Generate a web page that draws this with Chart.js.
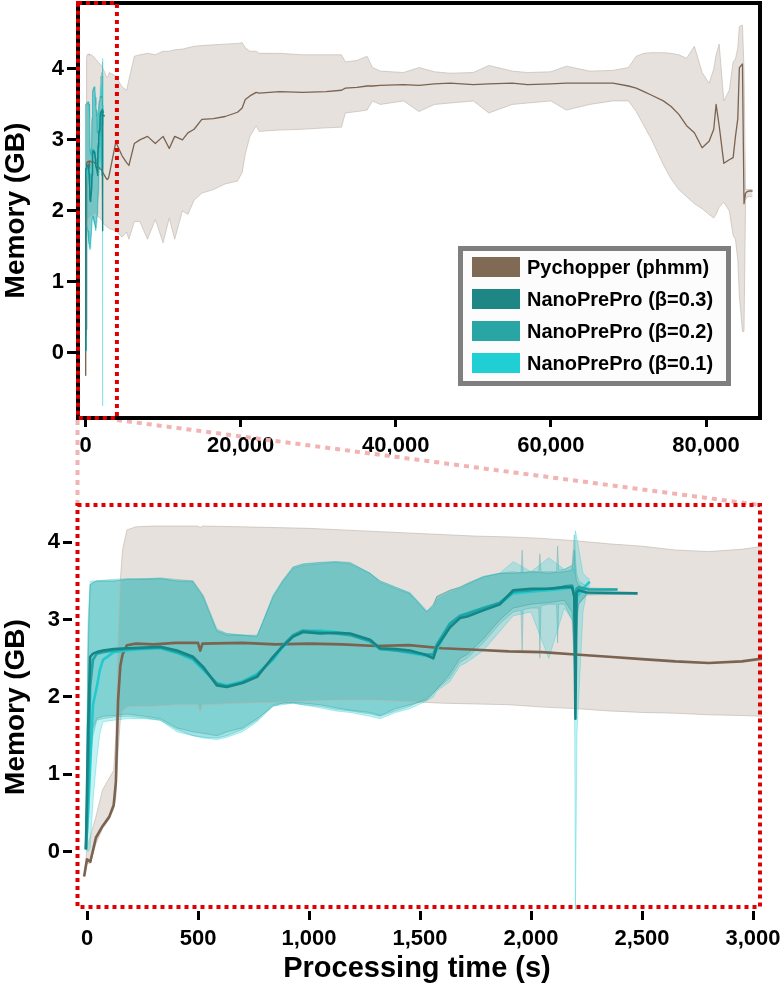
<!DOCTYPE html>
<html>
<head>
<meta charset="utf-8">
<script src="https://cdn.jsdelivr.net/npm/chart.js@4.4.1/dist/chart.umd.min.js"></script>
<style>
  body { margin: 0; background: #fff; }
  #wrap { position: relative; width: 784px; height: 997px; }
  #top { position: absolute; left: 0; top: 0; }
  #bottom { position: absolute; left: 0; top: 420px; }
</style>
</head>
<body>
<div id="wrap">
  <canvas id="top" width="784" height="460" style="width:784px;height:460px"></canvas>
  <canvas id="bottom" width="784" height="577" style="width:784px;height:577px"></canvas>
</div>
<script>
// Series names / colours
const seriesNames = ['Pychopper (phmm)', 'NanoPrePro (β=0.3)', 'NanoPrePro (β=0.2)', 'NanoPrePro (β=0.1)']
const swatchColors = ['#806a56', '#1f8686', '#2aa5a5', '#1fcfd4']
const lineColors = ['#7a6350', '#168585', '#1ea6a8', '#22c9cf']

// Tick labels
const topXTicks = [0, 20000, 40000, 60000, 80000]
const bottomXTicks = [0, 500, 1000, 1500, 2000, 2500, 3000]
const yTicks = [0, 1, 2, 3, 4]

// Pychopper (phmm): time (s), mean, lower, upper (GB)
const pyTime = [
  -13, 0, 15, 40, 70, 100, 120, 130, 140, 150,
  160, 180, 220, 300, 400, 500, 510, 520, 700, 850,
  1000, 1150, 1300, 1450, 1600, 1750, 1900, 2050, 2200, 2350,
  2500, 2650, 2800, 2950, 3050, 3900, 4700, 5300, 5600, 6300,
  7000, 8000, 9000, 10000, 10800, 11500, 12500, 13200, 14000, 15000,
  16500, 18000, 19600, 20200, 20600, 21200, 22000, 22400, 25000, 28000,
  31000, 33000, 33500, 35000, 36300, 37000, 38000, 41000, 43000, 45000,
  47000, 50000, 52000, 55000, 57000, 60000, 62000, 65000, 68000, 70000,
  71000, 72000, 73000, 74500, 75500, 76500, 77500, 78500, 79500, 80400,
  81000, 81300, 81700, 82300, 83000, 83500, 83800, 84100, 84300, 84700,
  84900, 85100, 85300, 85600, 86000
]
const pyMean = [
  -0.32, -0.1, -0.13, 0.18, 0.33, 0.45, 0.6, 0.9, 1.96, 2.4,
  2.55, 2.67, 2.69, 2.68, 2.7, 2.7, 2.6, 2.69, 2.7, 2.68,
  2.69, 2.68, 2.66, 2.67, 2.63, 2.61, 2.59, 2.58, 2.55, 2.52,
  2.49, 2.46, 2.44, 2.46, 2.5, 2.97, 2.78, 2.68, 2.64, 2.95,
  3.0, 3.05, 2.95, 3.05, 2.88, 3.05, 3.0, 3.1, 3.15, 3.29,
  3.3, 3.33, 3.39, 3.45, 3.57, 3.62, 3.67, 3.66, 3.68, 3.67,
  3.68, 3.7, 3.73, 3.74, 3.76, 3.76, 3.77, 3.78, 3.77, 3.79,
  3.8, 3.78, 3.79, 3.8, 3.78, 3.79, 3.8, 3.8, 3.8, 3.76,
  3.73, 3.68, 3.63, 3.55, 3.47, 3.36, 3.2, 3.1, 2.89, 2.98,
  3.15, 3.5, 3.2, 2.67, 2.72, 2.75, 3.05, 3.3, 4.02, 4.07,
  2.1, 2.25, 2.27, 2.28, 2.28
]
const pyLow = [
  -0.32, -0.15, -0.15, 0.1, 0.3, 0.42, 0.55, 0.7, 1.3, 1.7,
  1.82, 1.87, 1.88, 1.88, 1.9, 1.9, 1.8, 1.9, 1.92, 1.93,
  1.95, 1.96, 1.96, 1.94, 1.92, 1.91, 1.9, 1.87, 1.85, 1.82,
  1.8, 1.79, 1.77, 1.76, 1.75, 1.72, 1.63, 1.7, 1.6, 1.85,
  1.85, 1.6, 1.88, 1.55, 1.9, 1.6, 2.0, 1.95, 2.15, 2.25,
  2.3, 2.38, 2.42, 2.54, 2.8, 3.05, 3.2, 3.12, 3.14, 3.15,
  3.17, 3.18, 3.38, 3.4, 3.42, 3.55, 3.5, 3.55, 3.4, 3.5,
  3.52, 3.55, 3.38, 3.5, 3.52, 3.55, 3.42, 3.5, 3.55, 3.55,
  3.4, 3.2, 3.0, 2.65, 2.45, 2.3, 2.2, 2.1, 2.03, 1.95,
  1.9, 1.95, 2.05, 2.12, 2.0, 1.65, 1.6, 1.3, 0.8, 0.3,
  0.3, 2.15, 2.2, 2.2, 2.2
]
const pyHigh = [
  -0.32, 0.05, 0.2, 0.45, 0.8, 0.95, 1.05, 1.5, 2.8, 3.5,
  3.9, 4.16, 4.2, 4.21, 4.21, 4.21, 4.19, 4.21, 4.2, 4.19,
  4.18, 4.16, 4.14, 4.12, 4.1, 4.08, 4.07, 4.05, 4.02, 3.98,
  3.95, 3.9, 3.88, 3.91, 3.95, 3.9, 3.75, 3.7, 3.85, 4.18,
  4.2, 4.22, 4.2, 4.25, 4.25, 4.27, 4.28, 4.3, 4.32, 4.33,
  4.34, 4.35, 4.36, 4.37, 4.3, 4.25, 4.25, 4.22, 4.22, 4.2,
  4.2, 4.2, 4.1, 4.12, 4.18, 4.02, 3.97, 3.95, 4.02, 3.96,
  3.94, 3.95, 4.05, 3.97, 3.95, 3.96, 4.04, 3.97, 3.98, 4.02,
  4.18, 4.22, 4.23, 4.23, 4.22, 4.2, 4.15, 4.32, 3.95, 3.8,
  4.0, 4.2, 4.35, 3.55, 3.7, 4.1, 4.14, 4.3, 4.6, 4.62,
  4.0, 2.3, 2.3, 2.3, 2.3
]

// NanoPrePro (β=0.3)
const n3Time = [
  -5, 5, 14, 27, 44, 72, 120, 180, 260, 330,
  405, 477, 523, 585, 630, 700, 766, 838, 880, 928,
  973, 1050, 1120, 1185, 1275, 1320, 1390, 1455, 1530, 1560,
  1576, 1635, 1680, 1712, 1785, 1860, 1920, 2000, 2080, 2150,
  2185, 2195, 2200, 2205, 2215, 2250, 2480
]
const n3Mean = [
  0.03, 1.6, 2.52, 2.56, 2.58, 2.6, 2.62, 2.63, 2.64, 2.65,
  2.6, 2.52, 2.39, 2.15, 2.13, 2.18, 2.26, 2.52, 2.65, 2.78,
  2.84, 2.82, 2.83, 2.82, 2.74, 2.63, 2.62, 2.6, 2.54, 2.5,
  2.65, 2.9, 3.02, 3.04, 3.12, 3.2, 3.38, 3.4, 3.4, 3.42,
  3.42, 3.3, 1.72, 3.35, 3.38, 3.35, 3.34
]
const n3Low = [
  0.03, 0.5, 1.4, 1.6, 1.72, 1.75, 1.76, 1.78, 1.75, 1.72,
  1.6, 1.55, 1.53, 1.5, 1.55, 1.6, 1.72, 1.88, 1.92, 1.93,
  1.92, 1.9, 1.86, 1.83, 1.8, 1.76, 1.85, 1.9, 1.96, 2.05,
  2.1, 2.3, 2.5, 2.55, 2.75, 3.0, 3.15, 3.2, 3.22, 3.25,
  3.1, 2.6, 1.72, 2.9, 3.2, 3.32, 3.33
]
const n3High = [
  0.03, 2.8, 3.45, 3.48, 3.5, 3.5, 3.5, 3.52, 3.52, 3.53,
  3.5, 3.5, 3.3, 2.85, 2.8, 2.8, 2.78, 3.3, 3.5, 3.68,
  3.72, 3.74, 3.75, 3.74, 3.6, 3.5, 3.42, 3.34, 3.1, 3.2,
  3.3, 3.38, 3.42, 3.46, 3.55, 3.6, 3.6, 3.62, 3.6, 3.62,
  3.64, 3.9, 3.6, 3.5, 3.45, 3.36, 3.35
]

// NanoPrePro (β=0.2)
const n2Time = [
  -5, 5, 14, 27, 44, 72, 120, 180, 260, 330,
  405, 477, 523, 585, 630, 700, 766, 838, 880, 928,
  973, 1050, 1120, 1185, 1275, 1320, 1390, 1455, 1530, 1560,
  1576, 1635, 1680, 1712, 1785, 1860, 1920, 1955, 1960, 1965,
  2000, 2035, 2040, 2045, 2080, 2115, 2120, 2125, 2150, 2185,
  2195, 2200, 2205, 2215, 2260, 2390
]
const n2Mean = [
  0.03, 0.9, 2.13, 2.48, 2.56, 2.58, 2.6, 2.62, 2.63, 2.64,
  2.58, 2.5, 2.37, 2.17, 2.14, 2.19, 2.28, 2.5, 2.66, 2.8,
  2.86, 2.84, 2.82, 2.8, 2.72, 2.62, 2.6, 2.58, 2.55, 2.55,
  2.68, 2.95, 3.05, 3.08, 3.15, 3.22, 3.36, 3.37, 3.37, 3.37,
  3.38, 3.39, 3.39, 3.39, 3.4, 3.41, 3.41, 3.41, 3.43, 3.44,
  3.3, 3.2, 3.4, 3.42, 3.39, 3.39
]
const n2Low = [
  0.03, 0.3, 1.2, 1.5, 1.7, 1.72, 1.74, 1.75, 1.73, 1.7,
  1.58, 1.5, 1.48, 1.47, 1.5, 1.58, 1.7, 1.9, 1.92, 1.92,
  1.9, 1.88, 1.84, 1.82, 1.78, 1.75, 1.82, 1.88, 1.98, 2.05,
  2.1, 2.25, 2.45, 2.5, 2.7, 2.95, 3.1, 3.12, 2.6, 3.13,
  3.15, 3.15, 2.5, 3.18, 3.2, 3.2, 2.7, 3.2, 3.2, 3.0,
  2.4, 2.9, 3.1, 3.2, 3.37, 3.38
]
const n2High = [
  0.03, 2.5, 3.45, 3.48, 3.5, 3.51, 3.52, 3.53, 3.53, 3.54,
  3.52, 3.5, 3.32, 2.88, 2.82, 2.8, 2.8, 3.28, 3.48, 3.66,
  3.7, 3.72, 3.74, 3.72, 3.6, 3.48, 3.4, 3.33, 3.1, 3.18,
  3.3, 3.38, 3.42, 3.47, 3.56, 3.6, 3.62, 3.6, 3.9, 3.6,
  3.62, 3.62, 3.85, 3.62, 3.62, 3.62, 3.95, 3.64, 3.65, 3.7,
  4.1, 3.8, 3.6, 3.5, 3.41, 3.4
]

// NanoPrePro (β=0.1)
const n1Time = [
  -5, 5, 14, 27, 44, 58, 72, 120, 180, 260,
  330, 405, 477, 523, 585, 630, 700, 766, 838, 880,
  928, 973, 1050, 1120, 1185, 1275, 1320, 1390, 1455, 1530,
  1560, 1576, 1635, 1680, 1712, 1785, 1860, 1920, 2000, 2080,
  2150, 2185, 2195, 2200, 2207, 2234, 2250, 2265
]
const n1Mean = [
  0.03, 0.5, 1.1, 1.9, 2.13, 2.35, 2.48, 2.58, 2.6, 2.62,
  2.63, 2.57, 2.48, 2.35, 2.18, 2.15, 2.2, 2.3, 2.48, 2.64,
  2.78, 2.85, 2.86, 2.84, 2.81, 2.73, 2.62, 2.6, 2.57, 2.53,
  2.52, 2.62, 2.92, 3.03, 3.06, 3.13, 3.2, 3.34, 3.36, 3.38,
  3.4, 3.42, 3.35, 2.6, 3.3, 3.4, 3.45, 3.49
]
const n1Low = [
  0.03, 0.0, 0.05, 0.67, 1.2, 1.53, 1.68, 1.7, 1.72, 1.72,
  1.7, 1.55, 1.5, 1.47, 1.45, 1.48, 1.55, 1.68, 1.88, 1.9,
  1.92, 1.9, 1.86, 1.82, 1.8, 1.75, 1.72, 1.8, 1.85, 1.95,
  2.0, 2.08, 2.2, 2.4, 2.45, 2.6, 2.85, 3.05, 3.1, 2.5,
  3.15, 3.0, 2.9, -0.75, 1.53, 3.1, 3.35, 3.45
]
const n1High = [
  0.03, 3.0, 3.49, 3.5, 3.5, 3.5, 3.5, 3.5, 3.52, 3.53,
  3.53, 3.5, 3.48, 3.28, 2.86, 2.82, 2.8, 2.78, 3.32, 3.5,
  3.68, 3.72, 3.74, 3.75, 3.73, 3.6, 3.5, 3.42, 3.35, 3.12,
  3.15, 3.25, 3.35, 3.4, 3.45, 3.55, 3.6, 3.75, 3.62, 3.8,
  3.65, 3.7, 3.6, 4.15, 4.05, 3.6, 3.55, 3.52
]

// end of the zoomed window shown as a red box on the top chart
const zoomEnd = 4050

const FONT = "'Liberation Sans', Arial, Helvetica, sans-serif"

function pts(xs, ys) {
  return xs.map((x, i) => ({ x: x, y: ys[i] }))
}

function buildDatasets(meanWidth) {
  const band = (xs, lo, hi, fill, edge, order) => [
    { data: pts(xs, lo), borderColor: edge, borderWidth: 1, pointRadius: 0, fill: false, order: order },
    { data: pts(xs, hi), borderColor: edge, borderWidth: 1, pointRadius: 0, backgroundColor: fill, fill: '-1', order: order }
  ]
  const mean = (label, xs, ys, color, order) => ({
    label: label, data: pts(xs, ys), borderColor: color, borderWidth: meanWidth,
    pointRadius: 0, fill: false, order: order, borderJoinStyle: 'round'
  })
  return [
    ...band(pyTime, pyLow, pyHigh, '#e6e1dd', 'rgba(190,180,172,0.6)', 10),
    ...band(n3Time, n3Low, n3High, 'rgba(31,134,134,0.24)', 'rgba(31,134,134,0.3)', 9),
    ...band(n2Time, n2Low, n2High, 'rgba(42,165,165,0.24)', 'rgba(42,165,165,0.3)', 8),
    ...band(n1Time, n1Low, n1High, 'rgba(31,207,212,0.26)', 'rgba(31,207,212,0.35)', 7),
    mean(seriesNames[0], pyTime, pyMean, lineColors[0], 4),
    mean(seriesNames[3], n1Time, n1Mean, lineColors[3], 3),
    mean(seriesNames[2], n2Time, n2Mean, lineColors[2], 2),
    mean(seriesNames[1], n3Time, n3Mean, lineColors[1], 1)
  ]
}

function axisX(min, max, ticks, height, fontSize, pad, title) {
  return {
    type: 'linear', min: min, max: max,
    afterBuildTicks: s => { s.ticks = ticks.map(v => ({ value: v })) },
    afterFit: s => {
      s.height = height
      s.paddingLeft = 0
      s.paddingRight = 0
    },
    grid: { drawOnChartArea: false, color: '#000', tickLength: 9, tickWidth: 3 },
    border: { display: false },
    ticks: {
      color: '#000', autoSkip: false, maxRotation: 0, padding: pad,
      font: { family: FONT, size: fontSize, weight: 'bold' },
      callback: v => v.toLocaleString('en-US')
    },
    title: title
  }
}

function axisY(min, max, width) {
  return {
    min: min, max: max,
    afterBuildTicks: s => { s.ticks = yTicks.map(v => ({ value: v })) },
    afterFit: s => {
      s.width = width
      s.paddingTop = 0
      s.paddingBottom = 0
    },
    grid: { drawOnChartArea: false, color: '#000', tickLength: 9, tickWidth: 3 },
    border: { display: false },
    ticks: { color: '#000', padding: 3, font: { family: FONT, size: 22, weight: 'bold' } },
    title: {
      display: true, text: 'Memory (GB)', color: '#000',
      font: { family: FONT, size: 28, weight: 'bold', lineHeight: 1 },
      padding: { top: 2, bottom: 0 }
    }
  }
}

const baseOptions = (padding, scales) => ({
  responsive: false,
  animation: false,
  events: [],
  layout: { padding: padding },
  plugins: {
    legend: { display: false },
    tooltip: { enabled: false },
    filler: { drawTime: 'beforeDatasetsDraw' }
  },
  elements: { point: { radius: 0 }, line: { tension: 0 } },
  scales: scales
})

// frame, zoom box and legend of the overview chart
const topOverlay = {
  id: 'topOverlay',
  afterDraw(chart) {
    const { ctx, chartArea: a } = chart
    ctx.save()
    ctx.strokeStyle = '#000'
    ctx.lineWidth = 4
    ctx.strokeRect(a.left + 2, a.top, a.right - a.left - 2, a.bottom - a.top)

    const zx = chart.scales.x.getPixelForValue(zoomEnd)
    ctx.strokeStyle = '#e00000'
    ctx.setLineDash([4, 4])
    ctx.strokeRect(a.left + 2, a.top, zx - a.left - 2, a.bottom - a.top)
    ctx.setLineDash([])

    // legend
    ctx.fillStyle = '#fcfcfc'
    ctx.fillRect(460, 248, 269, 136)
    ctx.strokeStyle = '#7f7f7f'
    ctx.lineWidth = 5
    ctx.strokeRect(460.5, 248.5, 268, 135)
    ctx.font = 'bold 20px ' + FONT
    ctx.textBaseline = 'middle'
    seriesNames.forEach((name, i) => {
      const y = 257 + i * 32
      ctx.fillStyle = swatchColors[i]
      ctx.fillRect(472, y, 48, 20)
      ctx.fillStyle = '#000'
      ctx.fillText(name, 527, y + 11)
    })
    ctx.restore()
  }
}

// red box of the zoomed chart and the connector lines to the overview
const bottomOverlay = {
  id: 'bottomOverlay',
  afterDraw(chart) {
    const { ctx, chartArea: a } = chart
    ctx.save()
    ctx.lineWidth = 4
    ctx.strokeStyle = '#f2b3b3'
    ctx.setLineDash([5, 5])
    ctx.beginPath()
    ctx.moveTo(77.5, 0)
    ctx.lineTo(77.5, a.top + 2)
    ctx.moveTo(117, 0)
    ctx.lineTo(a.right - 2, a.top + 2)
    ctx.stroke()

    ctx.strokeStyle = '#e00000'
    ctx.setLineDash([4, 4])
    ctx.strokeRect(77.5, a.top + 2, a.right - 2 - 77.5, a.bottom - 4 - a.top - 2)
    ctx.restore()
  }
}

new Chart(document.getElementById('top'), {
  type: 'line',
  data: { datasets: buildDatasets(1.3) },
  options: baseOptions({ top: 3, right: 24, left: 0, bottom: 0 }, {
    x: axisX(-1225, 86962, topXTicks, 42, 22, 6, { display: false }),
    y: axisY(-0.92, 4.93, 76)
  }),
  plugins: [topOverlay]
})

new Chart(document.getElementById('bottom'), {
  type: 'line',
  data: { datasets: buildDatasets(2.6) },
  options: baseOptions({ top: 83, right: 22, left: 0, bottom: 0 }, {
    x: axisX(-67.6, 3040.5, bottomXTicks, 86, 22, 6, {
      display: true, text: 'Processing time (s)', color: '#000',
      font: { family: FONT, size: 29, weight: 'bold', lineHeight: 1.1 },
      padding: { top: 0, bottom: 12 }
    }),
    y: axisY(-0.767, 4.508, 72)
  }),
  plugins: [bottomOverlay]
})
</script>
</body>
</html>
